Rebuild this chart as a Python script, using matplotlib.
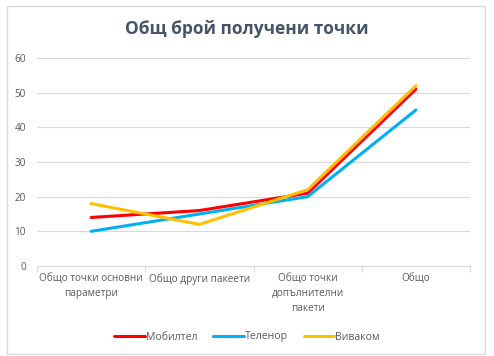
import matplotlib.pyplot as plt
from matplotlib.patches import Rectangle

categories = ["Общо точки основни\nпараметри", "Общо други пакеети",
              "Общо точки\nдопълнителни\nпакети", "Общо"]
mobiltel = [14, 16, 21, 51]
telenor = [10, 15, 20, 45]
vivacom = [18, 12, 22, 52]
series_names = ["Мобилтел", "Теленор", "Виваком"]
colors = ["#FF0000", "#00B0F0", "#FFC000"]

plt.rcParams['font.family'] = ['Open Sans', 'DejaVu Sans']

fig = plt.figure(figsize=(4.94, 3.56), dpi=100)
ax = fig.add_axes([37 / 494, 1 - 266 / 356, 433 / 494, 208 / 356])

# chart frame
fig.patches.append(Rectangle((7 / 494, 2 / 356), 478 / 494, 348 / 356,
                             transform=fig.transFigure, fill=False,
                             edgecolor="#D9D9D9", linewidth=1))

x = range(len(categories))
for vals, name, c in zip([mobiltel, telenor, vivacom], series_names, colors):
    ax.plot(x, vals, color=c, linewidth=2.2, label=name, solid_capstyle="round")

ax.set_xlim(-0.5, len(categories) - 0.5)
ax.set_ylim(0, 60)
ax.set_yticks(range(0, 61, 10))
ax.yaxis.grid(True, color="#D9D9D9", linewidth=0.8)
ax.set_axisbelow(True)

ax.set_xticks(list(x))
ax.set_xticklabels(categories, fontsize=7.2, color="#595959", linespacing=1.5)
ax.tick_params(axis="x", which="major", length=0, pad=5)
ax.set_xticks([i - 0.5 for i in range(len(categories) + 1)], minor=True)
ax.tick_params(axis="x", which="minor", length=4, color="#D9D9D9", width=0.8)
ax.tick_params(axis="y", length=0, labelsize=7.2, labelcolor="#595959", pad=8)

for s in ["top", "right", "left"]:
    ax.spines[s].set_visible(False)
ax.spines["bottom"].set_color("#D9D9D9")
ax.spines["bottom"].set_linewidth(0.8)

fig.text(0.5, 1 - 29 / 356, "Общ брой получени точки", ha="center", va="center",
         fontsize=12.5, fontweight="bold", color="#44546A")

fig.legend(loc="center", bbox_to_anchor=(0.5, 1 - 337 / 356), ncol=3,
           frameon=False, fontsize=7.6, handlelength=2.9, handletextpad=0.1,
           columnspacing=1.5, labelcolor="#595959")

fig.savefig("out.png", dpi=100)
